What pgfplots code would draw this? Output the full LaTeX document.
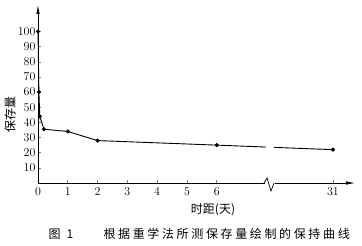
\documentclass[border=0pt]{standalone}
\usepackage{pgfplots}
\pgfplotsset{compat=1.18}
\usepackage{fontspec}
\usetikzlibrary{arrows.meta}
\newfontfamily\cjk{Noto Sans CJK SC}
\newfontfamily\cjksp[LetterSpace=22]{Noto Sans CJK SC}
\begin{document}
\begin{tikzpicture}
\path[use as bounding box] (-38pt,-63pt) rectangle (324pt,183pt);
\begin{axis}[
  at={(0pt,0pt)}, anchor=origin,
  scale only axis, width=317pt, height=178pt,
  xmin=0, xmax=10.64, ymin=0, ymax=117.5,
  axis lines=left,
  axis line style={line width=0.7pt},
  every outer x axis line/.append style={-{Latex[length=9pt,width=3.5pt]}},
  every outer y axis line/.append style={-{Latex[length=9pt,width=3.5pt]}},
  xtick={0,1,2,3,4,5,6,9.9},
  xticklabels={0,1,2,3,4,5,6,31},
  ytick={10,20,30,40,50,60,70,80,90,100},
  tick align=inside,
  major tick length=3pt,
  tick style={line width=0.6pt},
  tick label style={font=\fontsize{12}{14}\selectfont},
  xticklabel style={yshift=-1pt},
  yticklabel style={xshift=1pt},
  clip=false,
]
\addplot[black, line width=0.9pt, mark=*, mark size=1.6pt] coordinates {
  (0,100) (0.03,60) (0.06,44) (0.2,35.5) (1,34) (2,28) (6,25) (9.9,22)
};
\end{axis}
% gap in the curve and break in the axis
\fill[white] (228pt,30pt) rectangle (236pt,41pt);
\fill[white] (227pt,-1.5pt) rectangle (237pt,1.5pt);
\draw[line width=0.7pt] (226pt,0pt) -- (229pt,5pt) -- (233pt,-8pt) -- (236pt,0pt);
% labels
\node[rotate=90, font=\cjk\fontsize{12}{14}\selectfont] at (-28pt,68pt) {保存量};
\node[font=\cjk\fontsize{12}{14}\selectfont] at (175pt,-27pt) {时距(天)};
\node[anchor=west, font=\cjk\fontsize{12}{14}\selectfont] at (7pt,-51pt) {图\hspace{6pt}1};
\node[anchor=west, font=\cjksp\fontsize{12}{14}\selectfont] at (62pt,-51pt) {根据重学法所测保存量绘制的保持曲线};
\end{tikzpicture}
\end{document}
